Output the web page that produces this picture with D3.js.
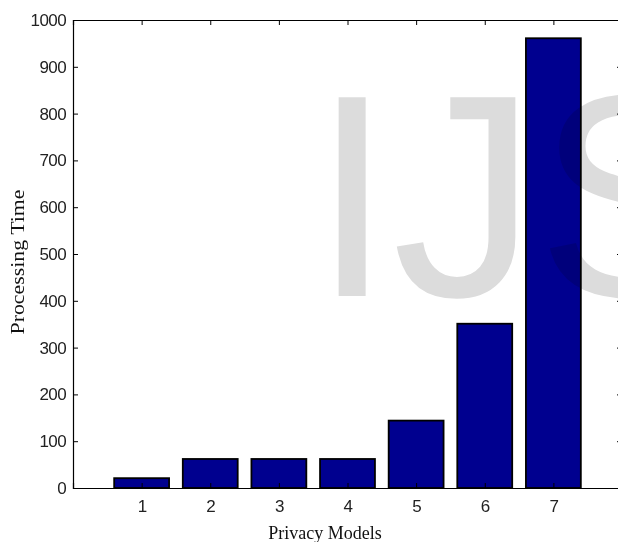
<!DOCTYPE html>
<html>
<head>
<meta charset="utf-8">
<script src="https://cdn.jsdelivr.net/npm/d3@7"></script>
<style>
  body { margin: 0; background: #fff; }
  .tick text { font-family: "Liberation Sans", Arial, sans-serif; fill: #222; }
  .axis-title { font-family: "Liberation Serif", "Times New Roman", serif; font-size: 18px; fill: #111; }
  .watermark { mix-blend-mode: multiply; }
</style>
</head>
<body>
<div id="chart"></div>
<script>
// data
var models = [1, 2, 3, 4, 5, 6, 7];
var times = [21, 62, 62, 62, 144, 351, 961];
var yTicks = [0, 100, 200, 300, 400, 500, 600, 700, 800, 900, 1000];

// dimensions: the right edge of the axes box falls just outside the picture
var svgWidth = 618;
var svgHeight = 542;
var margin = { top: 20, left: 73 };
var width = 549;
var height = 468;

var svg = d3.select("#chart")
    .append("svg")
    .attr("width", svgWidth)
    .attr("height", svgHeight);

var chartGroup = svg.append("g")
    .attr("transform", `translate(${margin.left},${margin.top})`);

// scales, matlab style: x from 0 to 8, bars 0.8 wide
var xScale = d3.scaleLinear().domain([0, 8]).range([0, width]);
var yScale = d3.scaleLinear().domain([0, 1000]).range([height, 0]);
var barW = xScale(0.8) - xScale(0);

// bars
chartGroup.selectAll(".bar")
    .data(models)
    .enter()
    .append("rect")
    .attr("class", "bar")
    .attr("x", (d, i) => xScale(d) - barW / 2)
    .attr("y", (d, i) => yScale(times[i]))
    .attr("width", barW)
    .attr("height", (d, i) => yScale(0) - yScale(times[i]))
    .attr("fill", "#00008f")
    .attr("stroke", "#000")
    .attr("stroke-width", 1.8);

// axes with ticks pointing inward on all four sides
var bottomAxis = d3.axisBottom(xScale).tickValues(models).tickSize(-5).tickPadding(12).tickFormat(d3.format("d"));
var topAxis = d3.axisTop(xScale).tickValues(models).tickSize(-5).tickFormat("");
var leftAxis = d3.axisLeft(yScale).tickValues(yTicks).tickSize(-5).tickPadding(7).tickFormat(d3.format("d"));
var rightAxis = d3.axisRight(yScale).tickValues(yTicks).tickSize(-5).tickFormat("");

chartGroup.append("g")
    .attr("transform", `translate(0,${height})`)
    .call(bottomAxis);
chartGroup.append("g")
    .call(topAxis);
chartGroup.append("g")
    .call(leftAxis);
chartGroup.append("g")
    .attr("transform", `translate(${width},0)`)
    .call(rightAxis);

chartGroup.selectAll(".domain").attr("stroke", "#000").attr("stroke-width", 1.2);
chartGroup.selectAll(".tick line").attr("stroke", "#000");
chartGroup.selectAll(".tick text").style("font-size", "17px").attr("letter-spacing", "-0.6px");

// axis titles
svg.append("text")
    .attr("class", "axis-title")
    .attr("x", 325)
    .attr("y", 539)
    .attr("text-anchor", "middle")
    .text("Privacy Models");

svg.append("text")
    .attr("class", "axis-title")
    .attr("transform", "rotate(-90)")
    .attr("x", -262)
    .attr("y", 24)
    .attr("text-anchor", "middle")
    .attr("textLength", 145)
    .attr("lengthAdjust", "spacingAndGlyphs")
    .style("font-size", "19px")
    .text("Processing Time");

// watermark over everything, cut by the right edge like the original
svg.append("text")
    .attr("class", "watermark")
    .attr("x", 312)
    .attr("y", 296)
    .attr("fill", "#dcdcdc")
    .style("font-family", "'Liberation Sans', Arial, sans-serif")
    .style("font-size", "289px")
    .text("IJS");
</script>
</body>
</html>
